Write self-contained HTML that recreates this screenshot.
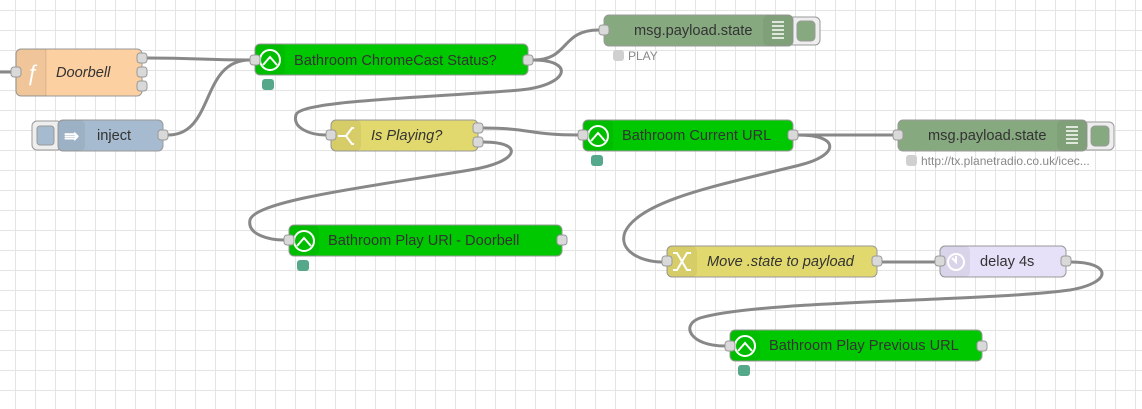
<!DOCTYPE html>
<html><head><meta charset="utf-8"><style>
html,body{margin:0;padding:0;background:#fff;}
svg{display:block;}
text{font-family:"Liberation Sans",sans-serif;font-size:14.6px;fill:#333;}
.w{fill:none;stroke:#888;stroke-width:3;}
.p{fill:#d9d9d9;stroke:#999;stroke-width:1;}
.n{stroke:#999;stroke-width:1;}
</style></head><body>
<svg width="1142" height="409" xmlns="http://www.w3.org/2000/svg">
<defs>
<pattern id="g" width="20" height="20" patternUnits="userSpaceOnUse" x="15" y="10">
<path d="M0 0H20M0 0V20" stroke="#e4e4e4" stroke-width="2" fill="none"/>
</pattern>
</defs>
<rect width="1142" height="409" fill="url(#g)"/>

<!-- wires -->
<path class="w" d="M0 72 H11"/>
<path class="w" d="M147 58 C200 58 200 60 250 60"/>
<path class="w" d="M168 135 C215 135 200 60 250 60"/>
<path class="w" d="M533 60 C570 60 560 30 599 30"/>
<path class="w" d="M533 60 C575 60 570 85 520 90 C430 98 300 100 296 115 C292 128 310 135 326 135"/>
<path class="w" d="M483 128 C530 128 530 135 578 135"/>
<path class="w" d="M483 142 C525 142 520 162 470 170 C380 185 255 200 250 220 C247 235 270 240 284 240"/>
<path class="w" d="M798 135 C850 135 893 135 893 135"/>
<path class="w" d="M798 135 C840 135 840 155 800 165 C720 185 640 200 625 232 C618 250 640 262 662 262"/>
<path class="w" d="M882 262 H935"/>
<path class="w" d="M1071 262 C1110 262 1115 282 1070 290 C980 302 760 300 700 318 C680 325 690 346 725 346"/>

<!-- Doorbell -->
<rect class="n" x="16" y="49" width="126" height="47" rx="5" fill="#fdd0a2"/>
<path d="M21 49 H46 V96 H21 A5 5 0 0 1 16 91 V54 A5 5 0 0 1 21 49Z" fill="#000" fill-opacity="0.05"/>
<line x1="46" y1="49" x2="46" y2="96" stroke="#000" stroke-opacity="0.1"/>
<text x="26" y="80" style="fill:#fff;font-size:22px;font-style:italic">ƒ</text>
<text x="56" y="77" style="font-style:italic">Doorbell</text>
<rect class="p" x="11" y="67" width="10" height="10" rx="3"/>
<rect class="p" x="137" y="53" width="10" height="10" rx="3"/>
<rect class="p" x="137" y="67" width="10" height="10" rx="3"/>
<rect class="p" x="137" y="81" width="10" height="10" rx="3"/>

<!-- inject -->
<rect x="32" y="121" width="30" height="29" rx="5" fill="#eee" stroke="#999"/>
<rect x="37" y="126" width="17" height="19" rx="3" fill="#a6bbcf" stroke="#999"/>
<rect class="n" x="58" y="120" width="105" height="31" rx="5" fill="#a6bbcf"/>
<rect x="58" y="120" width="27" height="31" rx="5" fill="#000" fill-opacity="0.05"/>
<text x="64" y="142" style="fill:#fff;font-size:18px;font-weight:bold">⇛</text>
<text x="97" y="140">inject</text>
<rect class="p" x="158" y="130" width="10" height="10" rx="3"/>

<!-- Chromecast status -->
<rect class="n" x="255" y="44" width="273" height="31" rx="5" fill="#00c800"/>
<rect x="255" y="44" width="30" height="31" rx="5" fill="#000" fill-opacity="0.05"/>
<circle cx="270" cy="60" r="10" fill="none" stroke="#fff" stroke-width="2"/>
<path d="M263 65 L270 57 L277 65" fill="none" stroke="#fff" stroke-width="2"/>
<text x="294" y="65">Bathroom ChromeCast Status?</text>
<rect class="p" x="250" y="55" width="10" height="10" rx="3"/>
<rect class="p" x="523" y="55" width="10" height="10" rx="3"/>
<rect x="262" y="79" width="12" height="11" rx="3" fill="#55a98a"/>

<!-- debug 1 -->
<rect x="788" y="17" width="32" height="28" rx="5" fill="#eee" stroke="#999"/>
<rect x="797" y="21" width="18" height="20" rx="4" fill="#87a980" stroke="#999"/>
<rect class="n" x="604" y="15" width="189" height="31" rx="5" fill="#87a980"/>
<rect x="763" y="15" width="30" height="31" rx="5" fill="#000" fill-opacity="0.05"/>
<g stroke="#fff" stroke-width="1.5"><line x1="772" y1="22" x2="784" y2="22"/><line x1="772" y1="26" x2="784" y2="26"/><line x1="772" y1="30" x2="784" y2="30"/><line x1="772" y1="34" x2="784" y2="34"/><line x1="772" y1="38" x2="784" y2="38"/></g>
<text x="634" y="35">msg.payload.state</text>
<rect class="p" x="599" y="25" width="10" height="10" rx="3"/>
<rect x="613" y="50" width="11" height="11" rx="3" fill="#d0d0d0"/>
<text x="628" y="60" style="font-size:12px;fill:#888">PLAY</text>

<!-- Is Playing -->
<rect class="n" x="331" y="120" width="147" height="31" rx="5" fill="#e2d96e"/>
<rect x="331" y="120" width="30" height="31" rx="5" fill="#000" fill-opacity="0.05"/>
<path d="M338 136 H346 M346 136 L352 128 H354 M346 136 L352 144 H354" fill="none" stroke="#fff" stroke-width="2"/>
<text x="371" y="140" style="font-style:italic">Is Playing?</text>
<rect class="p" x="326" y="130" width="10" height="10" rx="3"/>
<rect class="p" x="473" y="123" width="10" height="10" rx="3"/>
<rect class="p" x="473" y="137" width="10" height="10" rx="3"/>

<!-- Current URL -->
<rect class="n" x="583" y="120" width="210" height="31" rx="5" fill="#00c800"/>
<rect x="583" y="120" width="30" height="31" rx="5" fill="#000" fill-opacity="0.05"/>
<circle cx="598" cy="136" r="10" fill="none" stroke="#fff" stroke-width="2"/>
<path d="M591 141 L598 133 L605 141" fill="none" stroke="#fff" stroke-width="2"/>
<text x="622" y="140">Bathroom Current URL</text>
<rect class="p" x="578" y="130" width="10" height="10" rx="3"/>
<rect class="p" x="788" y="130" width="10" height="10" rx="3"/>
<rect x="591" y="155" width="12" height="11" rx="3" fill="#55a98a"/>

<!-- debug 2 -->
<rect x="1082" y="122" width="32" height="28" rx="5" fill="#eee" stroke="#999"/>
<rect x="1091" y="126" width="18" height="20" rx="4" fill="#87a980" stroke="#999"/>
<rect class="n" x="898" y="120" width="189" height="31" rx="5" fill="#87a980"/>
<rect x="1057" y="120" width="30" height="31" rx="5" fill="#000" fill-opacity="0.05"/>
<g stroke="#fff" stroke-width="1.5"><line x1="1066" y1="127" x2="1078" y2="127"/><line x1="1066" y1="131" x2="1078" y2="131"/><line x1="1066" y1="135" x2="1078" y2="135"/><line x1="1066" y1="139" x2="1078" y2="139"/><line x1="1066" y1="143" x2="1078" y2="143"/></g>
<text x="928" y="140">msg.payload.state</text>
<rect class="p" x="893" y="130" width="10" height="10" rx="3"/>
<rect x="906" y="155" width="11" height="11" rx="3" fill="#d0d0d0"/>
<text x="921" y="165" style="font-size:12px;fill:#888">http://tx.planetradio.co.uk/icec...</text>

<!-- Play URl Doorbell -->
<rect class="n" x="289" y="225" width="273" height="31" rx="5" fill="#00c800"/>
<rect x="289" y="225" width="30" height="31" rx="5" fill="#000" fill-opacity="0.05"/>
<circle cx="304" cy="241" r="10" fill="none" stroke="#fff" stroke-width="2"/>
<path d="M297 246 L304 238 L311 246" fill="none" stroke="#fff" stroke-width="2"/>
<text x="328" y="245">Bathroom Play URl - Doorbell</text>
<rect class="p" x="284" y="235" width="10" height="10" rx="3"/>
<rect class="p" x="557" y="235" width="10" height="10" rx="3"/>
<rect x="297" y="260" width="12" height="11" rx="3" fill="#55a98a"/>

<!-- Move -->
<rect class="n" x="667" y="246" width="210" height="31" rx="5" fill="#e2d96e"/>
<rect x="667" y="246" width="30" height="31" rx="5" fill="#000" fill-opacity="0.05"/>
<path d="M673 253 H677 L687 270 H691 M673 270 H677 L687 253 H691" fill="none" stroke="#fff" stroke-width="2"/>
<text x="707" y="266" style="font-style:italic">Move .state to payload</text>
<rect class="p" x="662" y="256" width="10" height="10" rx="3"/>
<rect class="p" x="872" y="256" width="10" height="10" rx="3"/>

<!-- delay -->
<rect class="n" x="940" y="246" width="126" height="31" rx="5" fill="#e6e0f8"/>
<rect x="940" y="246" width="30" height="31" rx="5" fill="#000" fill-opacity="0.05"/>
<circle cx="956" cy="262" r="8" fill="none" stroke="#fff" stroke-width="2"/>
<path d="M956 256 V262 L952 258" fill="none" stroke="#fff" stroke-width="2"/>
<text x="980" y="266">delay 4s</text>
<rect class="p" x="935" y="256" width="10" height="10" rx="3"/>
<rect class="p" x="1061" y="256" width="10" height="10" rx="3"/>

<!-- Play Previous -->
<rect class="n" x="730" y="330" width="252" height="31" rx="5" fill="#00c800"/>
<rect x="730" y="330" width="30" height="31" rx="5" fill="#000" fill-opacity="0.05"/>
<circle cx="745" cy="346" r="10" fill="none" stroke="#fff" stroke-width="2"/>
<path d="M738 351 L745 343 L752 351" fill="none" stroke="#fff" stroke-width="2"/>
<text x="769" y="350">Bathroom Play Previous URL</text>
<rect class="p" x="725" y="341" width="10" height="10" rx="3"/>
<rect class="p" x="977" y="341" width="10" height="10" rx="3"/>
<rect x="738" y="365" width="12" height="11" rx="3" fill="#55a98a"/>
</svg>
</body></html>
